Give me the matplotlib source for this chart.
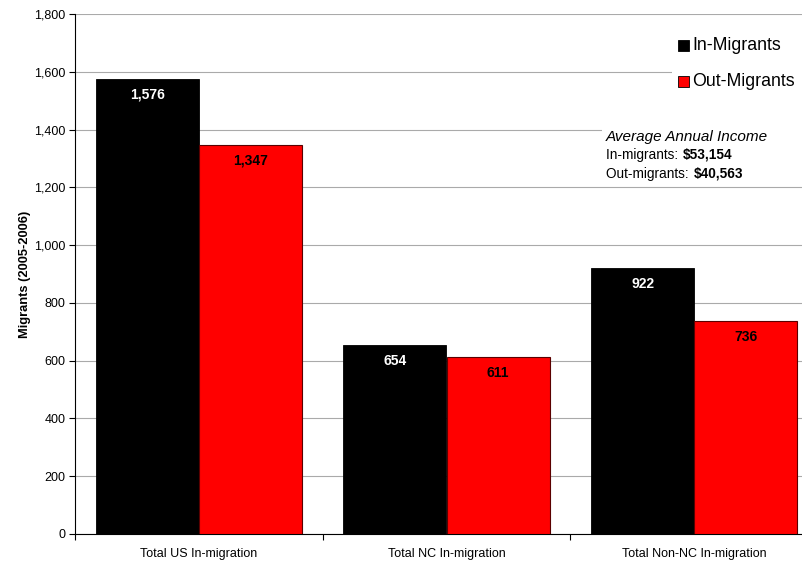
import matplotlib
matplotlib.use("Agg")
import matplotlib.pyplot as plt
import numpy as np
from matplotlib.patches import Rectangle
from matplotlib.ticker import FuncFormatter, FixedLocator

plt.rcParams['font.family'] = ['Liberation Sans', 'DejaVu Sans']

categories = ["Total US In-migration", "Total NC In-migration", "Total Non-NC In-migration"]
in_migrants = [1576, 654, 922]
out_migrants = [1347, 611, 736]
series_names = ["In-Migrants", "Out-Migrants"]
colors = ["#000000", "#ff0000"]
yticks = [0, 200, 400, 600, 800, 1000, 1200, 1400, 1600, 1800]
income_labels = ["In-migrants: ", "Out-migrants: "]
income_values = ["$53,154", "$40,563"]

fig = plt.figure(figsize=(8.03, 5.62), dpi=100)
ax = fig.add_axes([75/803, 28/562, 743/803, 520/562])

x = np.arange(len(categories))
w = 0.417
b1 = ax.bar(x - w/2, in_migrants, w, color=colors[0], edgecolor="#000000", linewidth=0.6, zorder=3)
b2 = ax.bar(x + w/2, out_migrants, w, color=colors[1], edgecolor="#5a0000", linewidth=0.8, zorder=3)

for bars, vals, tc in [(b1, in_migrants, "white"), (b2, out_migrants, "black")]:
    for r, v in zip(bars, vals):
        ax.annotate(f"{v:,}", (r.get_x() + r.get_width()/2, v), xytext=(0, -16),
                    textcoords="offset pixels",
                    ha="center", va="center", color=tc, fontsize=10, fontweight="bold", zorder=4)

ax.set_xlim(-0.5, len(categories) - 0.5)
ax.set_ylim(0, 1800)
ax.set_yticks(yticks)
ax.yaxis.set_major_formatter(FuncFormatter(lambda v, p: f"{int(v):,}"))
ax.set_xticks(x)
ax.set_xticklabels(categories, fontsize=9)
ax.xaxis.set_minor_locator(FixedLocator(np.arange(-0.5, len(categories) + 0.5, 1.0)))
ax.tick_params(axis="x", which="major", length=0, pad=10)
ax.tick_params(axis="x", which="minor", length=4, direction="out", width=0.8)
ax.tick_params(axis="y", length=4, direction="out", labelsize=9, width=0.8, pad=3)
ax.grid(axis="y", color="#aaaaaa", linewidth=0.8, zorder=0)
ax.set_axisbelow(True)
for s in ["top", "right"]:
    ax.spines[s].set_visible(False)
ax.spines["left"].set_linewidth(0.8)
ax.spines["bottom"].set_linewidth(0.8)
ax.set_ylabel("Migrants (2005-2006)", fontsize=9.3, fontweight="bold", labelpad=2)

# legend (white background covering gridlines)
fig.patches.append(Rectangle((672/803, 1 - 96/562), 131/803, 66/562, transform=fig.transFigure,
                             facecolor="white", edgecolor="none", zorder=5))
for i, (name, c) in enumerate(zip(series_names, colors)):
    yy = 1 - (45 + 36*i)/562
    fig.patches.append(Rectangle((678/803, yy - 5.5/562), 11/803, 11/562, transform=fig.transFigure,
                                 facecolor=c, edgecolor="black", linewidth=0.6, zorder=6))
    fig.text(692/803, yy, name, fontsize=12.8, va="center", ha="left", zorder=7)

# income note
fig.patches.append(Rectangle((602/803, 1 - 184/562), 201/803, 58/562, transform=fig.transFigure,
                             facecolor="white", edgecolor="none", zorder=5))
fig.text(606/803, 1 - 137/562, "Average Annual Income", fontsize=11, style="italic", va="center", zorder=7)
renderer = fig.canvas.get_renderer()
for i, (lab, val) in enumerate(zip(income_labels, income_values)):
    yy = 1 - (155 + 19*i)/562
    t = fig.text(606/803, yy, lab, fontsize=9.8, va="center", zorder=7)
    bb = t.get_window_extent(renderer=renderer)
    fig.text(bb.x1/803 + 1/803, yy, val, fontsize=9.8, fontweight="bold", va="center", zorder=7)

fig.savefig("out.png", dpi=100)
